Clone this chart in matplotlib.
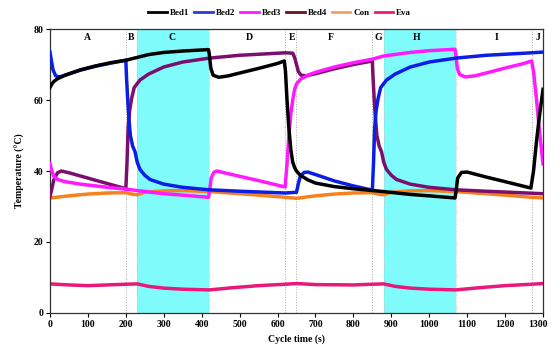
import matplotlib
matplotlib.use("Agg")
import matplotlib.pyplot as plt
import matplotlib.transforms as mtransforms
from matplotlib.lines import Line2D

# ---------------- data ----------------
t_bed1 = [0, 5, 10, 20, 40, 80, 120, 160, 200, 230, 260, 300, 350, 400, 418, 420, 424, 430, 445, 470,
          500, 550, 600, 618, 621, 625, 630, 635, 640, 645, 650, 660, 680, 700, 750, 800, 850, 880,
          950, 1000, 1068, 1071, 1075, 1085, 1100, 1150, 1200, 1268, 1275, 1283, 1290, 1300]
v_bed1 = [63.5, 64.5, 65.2, 66.0, 67.0, 68.5, 69.6, 70.5, 71.2, 72.0, 72.8, 73.4, 73.8, 74.1, 74.2, 73.0,
          69.0, 67.0, 66.4, 66.8, 67.6, 68.9, 70.3, 71.0, 68.0, 60.0, 52.0, 46.0, 42.5, 41.0, 40.0,
          38.8, 37.5, 36.6, 35.6, 35.0, 34.5, 34.2, 33.4, 33.0, 32.4, 34.5, 38.0, 39.6, 39.7, 38.3,
          37.0, 35.2, 40.0, 48.5, 55.0, 63.0]

t_bed2 = [0, 3, 8, 15, 25, 40, 80, 120, 160, 200, 202, 205, 208, 212, 218, 224, 230, 237, 250, 264,
          300, 350, 420, 500, 620, 650, 655, 660, 670, 680, 700, 750, 800, 850, 853, 856, 860, 865,
          872, 887, 910, 950, 1000, 1070, 1150, 1270, 1300]
v_bed2 = [73.5, 71.5, 68.5, 66.8, 66.5, 67.0, 68.4, 69.5, 70.4, 71.2, 66.0, 60.0, 55.0, 50.0, 47.0,
          45.5, 42.5, 40.5, 38.8, 37.6, 36.3, 35.4, 34.7, 34.3, 33.8, 34.0, 36.5, 38.5, 39.6, 39.7,
          39.0, 37.2, 35.8, 34.6, 42.0, 52.0, 57.0, 60.3, 63.5, 65.6, 67.3, 69.3, 70.7, 71.8, 72.6,
          73.3, 73.5]

t_bed3 = [0, 5, 10, 20, 40, 80, 120, 160, 200, 230, 300, 350, 418, 421, 425, 432, 440, 460, 500, 550,
          600, 620, 625, 630, 635, 640, 645, 650, 660, 680, 700, 750, 800, 850, 880, 950, 1000, 1068,
          1070, 1074, 1080, 1095, 1120, 1150, 1200, 1250, 1270, 1275, 1283, 1290, 1300]
v_bed3 = [42.0, 40.0, 38.5, 37.6, 37.0, 36.3, 35.8, 35.3, 34.9, 34.5, 33.6, 33.2, 32.6, 34.5, 38.0,
          39.6, 40.0, 39.5, 38.5, 37.3, 36.0, 35.5, 42.0, 50.0, 56.0, 60.0, 63.0, 64.5, 65.8, 67.0,
          67.8, 69.3, 70.5, 71.5, 72.4, 73.4, 73.9, 74.3, 73.0, 69.0, 67.2, 66.5, 66.8, 67.6, 69.0,
          70.3, 71.0, 68.0, 60.0, 52.0, 42.0]

t_bed4 = [0, 5, 10, 20, 30, 50, 100, 150, 200, 203, 206, 210, 215, 222, 237, 260, 300, 350, 420, 500,
          620, 640, 645, 650, 655, 662, 675, 700, 750, 800, 850, 852, 855, 858, 862, 868, 874, 880,
          887, 900, 914, 950, 1000, 1070, 1150, 1300]
v_bed4 = [32.8, 35.0, 37.5, 39.5, 40.0, 39.5, 38.0, 36.5, 35.0, 42.0, 52.0, 57.0, 60.3, 63.5, 65.6,
          67.3, 69.3, 70.7, 71.8, 72.6, 73.3, 73.2, 72.0, 70.0, 68.0, 67.0, 66.8, 67.4, 68.8, 70.0,
          71.0, 66.0, 60.0, 55.0, 50.0, 47.0, 45.5, 42.5, 40.5, 38.8, 37.6, 36.3, 35.4, 34.7, 34.3,
          33.6]

t_con = [0, 50, 100, 150, 200, 215, 230, 250, 300, 350, 420, 500, 550, 620, 650, 700, 750, 800, 850,
         865, 880, 900, 950, 1000, 1070, 1150, 1200, 1270, 1300]
v_con = [32.4, 33.0, 33.5, 33.8, 33.9, 33.5, 33.3, 34.0, 34.4, 34.5, 34.2, 33.6, 33.2, 32.6, 32.3,
         33.0, 33.5, 33.8, 33.9, 33.5, 33.3, 34.0, 34.4, 34.5, 34.2, 33.6, 33.2, 32.6, 32.4]

t_eva = [0, 50, 100, 150, 200, 230, 260, 300, 350, 420, 480, 550, 620, 650, 700, 800, 850, 880, 910,
         950, 1000, 1070, 1130, 1200, 1270, 1300]
v_eva = [8.2, 7.9, 7.7, 7.9, 8.1, 8.2, 7.5, 7.0, 6.7, 6.5, 7.1, 7.7, 8.1, 8.3, 8.0, 7.9, 8.1, 8.2,
         7.5, 7.0, 6.7, 6.5, 7.1, 7.7, 8.1, 8.3]

phase_labels = ["A", "B", "C", "D", "E", "F", "G", "H", "I", "J"]
phase_label_pos = [100, 214, 322, 525, 637, 740, 865, 968, 1178, 1288]
phase_bounds = [200, 620, 650, 850, 1270]
cyan_spans = [(230, 420), (880, 1070)]

x_ticks = list(range(0, 1301, 100))
y_ticks = [0, 20, 40, 60, 80]

# ---------------- plot ----------------
plt.rcParams['font.family'] = ['Liberation Serif', 'DejaVu Serif']
plt.rcParams['font.weight'] = 'bold'

fig = plt.figure(figsize=(5.51, 3.60), dpi=100)
ax = fig.add_axes([0.0907, 0.1306, 0.8948, 0.7888])

for a, b in cyan_spans:
    ax.axvspan(a, b, color='#80fbfb', lw=0, zorder=0)
for xb in phase_bounds:
    ax.axvline(xb, color='#aaaaaa', lw=0.7, ls=':', zorder=0.5)
for xb in [230, 420, 880, 1070]:
    ax.axvline(xb, color='#bbbbbb', lw=0.6, ls=':', zorder=0.5)

lw = 2.5
ax.plot(t_con, v_con, color='#f5821f', lw=lw, label='Con', zorder=2)
ax.plot(t_eva, v_eva, color='#e8197a', lw=lw, label='Eva', zorder=2)
ax.plot(t_bed4, v_bed4, color='#7a0f6e', lw=lw, label='Bed4', zorder=3)
ax.plot(t_bed3, v_bed3, color='#ff1aff', lw=lw, label='Bed3', zorder=3)
ax.plot(t_bed2, v_bed2, color='#0a1ee6', lw=lw, label='Bed2', zorder=3)
ax.plot(t_bed1, v_bed1, color='black', lw=lw, label='Bed1', zorder=4)

for lab, xp in zip(phase_labels, phase_label_pos):
    ax.text(xp, 77.6, lab, ha='center', va='center', fontsize=7, fontweight='bold')

ax.set_xlim(0, 1300)
ax.set_ylim(0, 80)
ax.set_xticks(x_ticks)
ax.set_yticks(y_ticks)
ax.tick_params(direction='out', length=3, width=0.8, labelsize=7, pad=2)
for s in ax.spines.values():
    s.set_linewidth(0.9)
    s.set_color('#333333')

# keep the last x tick label inside the canvas
last = ax.get_xticklabels()[-1]
last.set_transform(last.get_transform() + mtransforms.ScaledTranslation(-5 / 100, 0, fig.dpi_scale_trans))

ax.set_xlabel('Cycle time (s)', fontsize=7, fontweight='bold', labelpad=4)
ax.set_ylabel('Temperature (\u00b0C)', fontsize=7, fontweight='bold', labelpad=6)

order = ['Bed1', 'Bed2', 'Bed3', 'Bed4', 'Con', 'Eva']
leg_colors = {'Bed1': 'black', 'Bed2': '#2a3ad6', 'Bed3': '#ff1aff', 'Bed4': '#6a0f20',
              'Con': '#f5a060', 'Eva': '#e8197a'}
leg_handles = [Line2D([0], [0], color=leg_colors[k], lw=2.0) for k in order]
fig.legend(leg_handles, order, loc='center', bbox_to_anchor=(0.508, 0.965), ncol=6,
           frameon=False, fontsize=6.5, handlelength=2.0, handletextpad=0.35, columnspacing=0.6)

fig.savefig('out.png', dpi=100)
